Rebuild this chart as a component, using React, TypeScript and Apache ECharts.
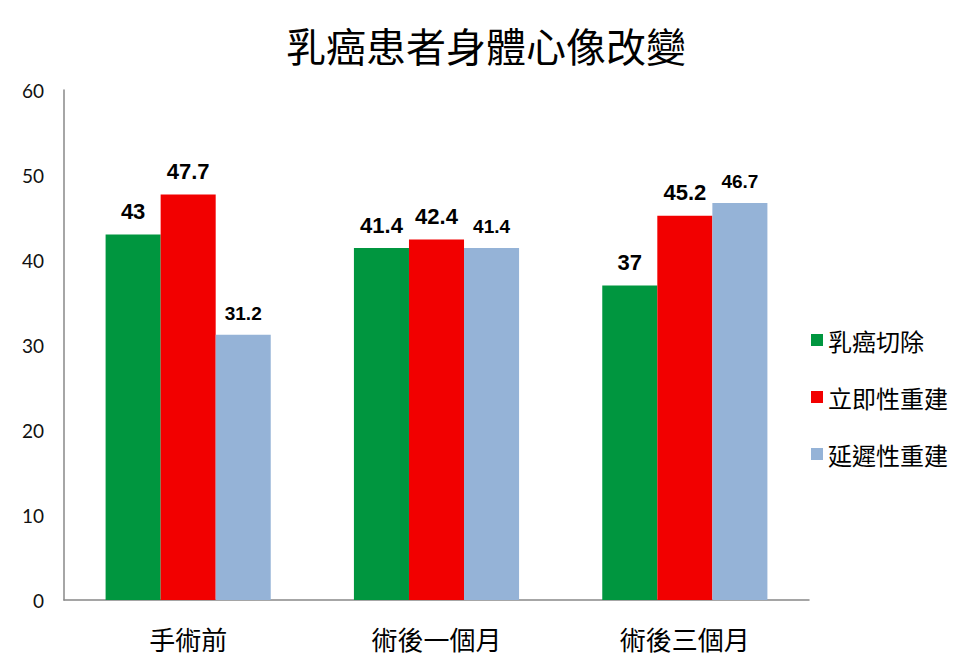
import React, { useEffect, useRef } from "react";
import * as echarts from "echarts";

const categories = ["手術前", "術後一個月", "術後三個月"];
const seriesNames = ["乳癌切除", "立即性重建", "延遲性重建"];
const mastectomy = [43, 41.4, 37];
const immediate = [47.7, 42.4, 45.2];
const delayed = [31.2, 41.4, 46.7];
const yTicks = [0, 10, 20, 30, 40, 50, 60];

const CJK = '"Noto Sans CJK TC", "Noto Sans CJK SC", sans-serif';

export default function App() {
  const ref = useRef<HTMLDivElement>(null);
  useEffect(() => {
    if (!ref.current) return;
    const chart = echarts.init(ref.current, undefined, { renderer: "svg" });
    const colors = ["#00963F", "#F20000", "#95B3D7"];
    const values = [mastectomy, immediate, delayed];
    const labelSizes = [22, 22, 19];
    chart.setOption({
      animation: false,
      backgroundColor: "#ffffff",
      title: {
        text: "乳癌患者身體心像改變",
        left: "center",
        top: 20,
        textStyle: { fontFamily: CJK, fontSize: 40, fontWeight: "normal", color: "#000" },
      },
      legend: {
        orient: "vertical",
        left: 806,
        top: 323,
        itemWidth: 12,
        itemHeight: 12,
        itemGap: 33,
        icon: "rect",
        textStyle: { fontFamily: CJK, fontSize: 24, color: "#000", lineHeight: 24 },
        data: seriesNames,
      },
      grid: { left: 64, right: 163, top: 90, bottom: 62 },
      xAxis: {
        type: "category",
        data: categories,
        axisLine: { lineStyle: { color: "#888888", width: 1.5 } },
        axisTick: { show: false },
        axisLabel: { fontFamily: CJK, fontSize: 26, color: "#000", margin: 25 },
      },
      yAxis: {
        type: "value",
        min: yTicks[0],
        max: yTicks[yTicks.length - 1],
        interval: 10,
        axisLine: { show: true, lineStyle: { color: "#888888", width: 1.5 } },
        axisTick: { show: false },
        splitLine: { show: false },
        axisLabel: { fontFamily: "Lato, sans-serif", fontSize: 19, color: "#111", margin: 20 },
      },
      series: seriesNames.map((name, i) => ({
        name,
        type: "bar",
        data: values[i],
        barGap: "0%",
        barCategoryGap: "33.5%",
        itemStyle: { color: colors[i] },
        label: {
          show: true,
          position: "top",
          distance: 12,
          fontFamily: '"Liberation Sans", Arial, sans-serif',
          fontWeight: "bold",
          fontSize: labelSizes[i],
          color: "#000",
        },
      })),
    });
    return () => chart.dispose();
  }, []);
  return <div ref={ref} style={{ width: 972, height: 662, position: "absolute", left: 0, top: 0 }} />;
}
